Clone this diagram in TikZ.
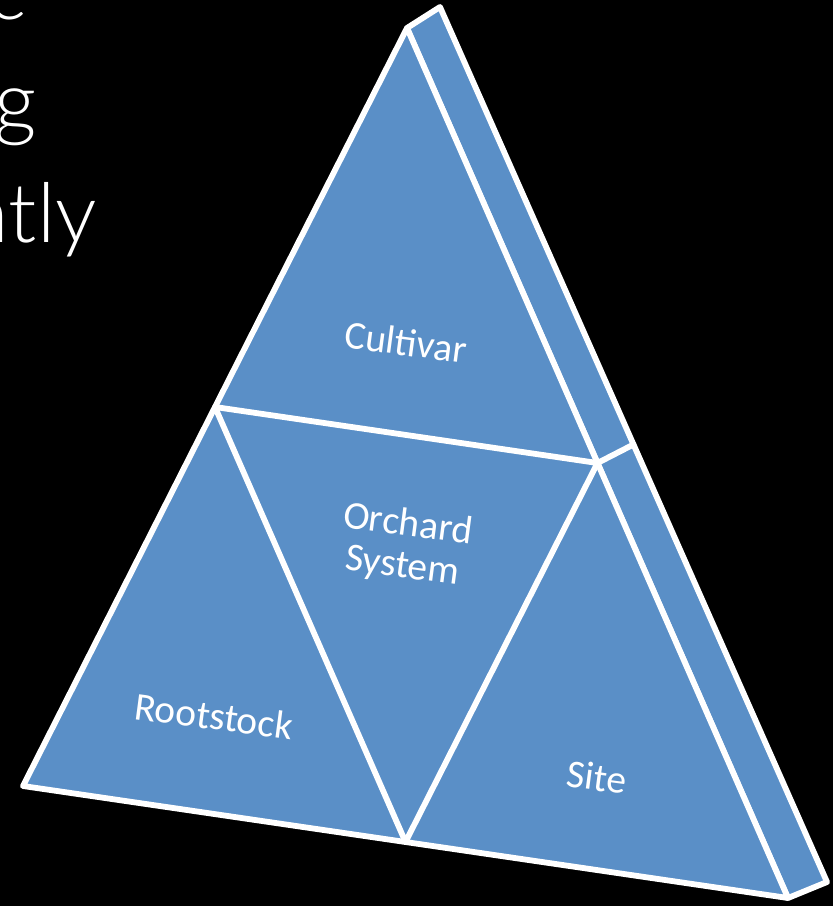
\documentclass[tikz,border=0pt]{standalone}
\usepackage{fontspec}
\usetikzlibrary{calc}
\setmainfont{Carlito}
\IfFontExistsTF{Lato-Light.ttf}{\newfontfamily\thinfont{Lato-Light.ttf}}{\newfontfamily\thinfont{Lato}}
\definecolor{faceblue}{RGB}{90,143,199}
\begin{document}
\begin{tikzpicture}[x=0.02cm,y=-0.02cm,
  facet/.style={fill=faceblue,draw=white,line width=3.3pt,line join=round},
  seam/.style={draw=white,line width=3.3pt,line cap=round,line join=round},
  label/.style={text=white,font=\fontsize{22.5}{24}\selectfont,rotate=-7.5,inner sep=0pt,align=center},
  heading/.style={text=white,font=\thinfont\fontsize{47}{56}\selectfont,inner sep=0pt,anchor=base east}]
% black slide background
\fill[black] (0,0) rectangle (833,906);
\useasboundingbox (0,0) rectangle (833,906);
\clip (0,0) rectangle (833,906);

% corners of the front face and of the back edge
\coordinate (A)   at (407,28);
\coordinate (B)   at (440,7);
\coordinate (L)   at (23,786);
\coordinate (R)   at (788,898);
\coordinate (Rb)  at (827,882);
\coordinate (ML)  at ($(A)!0.5!(L)$);
\coordinate (MR)  at ($(A)!0.5!(R)$);
\coordinate (MB)  at ($(L)!0.5!(R)$);
\coordinate (MRb) at ($(B)!0.5!(Rb)$);

% title text running off the left edge
\node[heading] (w1) at (27,19) {c};
\node[heading] (w2) at (37,130) {g};
\node[heading] (w3) at (97,242) {ntly};

% side of the slab
\filldraw[facet] (A) -- (B) -- (Rb) -- (R) -- cycle;
\draw[seam] (MR) -- (MRb);

% front face split into four triangles
\filldraw[facet] (A) -- (L) -- (R) -- cycle;
\draw[seam] (ML) -- (MR) -- (MB) -- cycle;

% labels
\node[label] (cultivar)  at (406,342) {Cultivar};
\node[label] (orchard)   at (405,546) {Orchard\\System};
\node[label] (rootstock) at (214,716) {Rootstock};
\node[label] (site)      at (597,777) {Site};
\end{tikzpicture}
\end{document}
